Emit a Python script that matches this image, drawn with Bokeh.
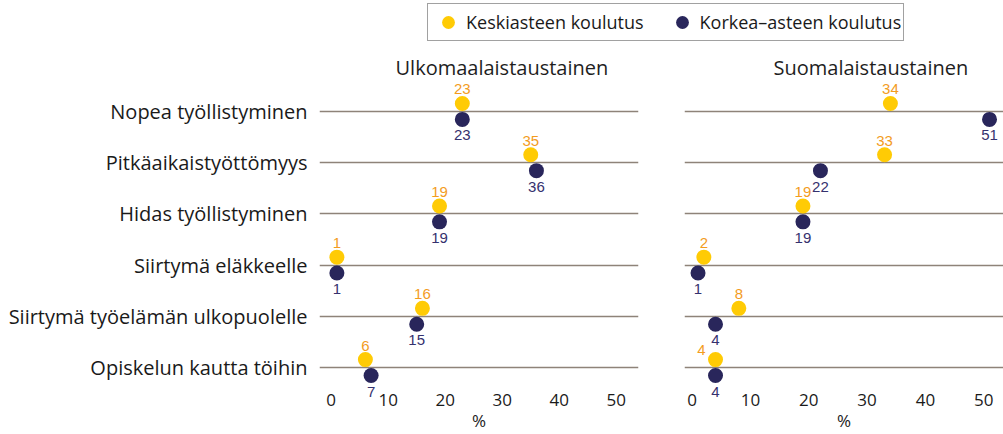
from bokeh.plotting import figure
from bokeh.models import (ColumnDataSource, Range1d, FixedTicker, LabelSet,
                          Legend, LegendItem)
from bokeh.layouts import column, row
from bokeh.transform import dodge
from bokeh.core.properties import value
from bokeh.embed import file_html
from bokeh.resources import INLINE

# ---------------- data ----------------
categories = ["Nopea työllistyminen", "Pitkäaikaistyöttömyys", "Hidas työllistyminen",
              "Siirtymä eläkkeelle", "Siirtymä työelämän ulkopuolelle", "Opiskelun kautta töihin"]
panel_titles = ["Ulkomaalaistaustainen", "Suomalaistaustainen"]
series_names = ["Keskiasteen koulutus", "Korkea–asteen koulutus"]
foreign_secondary = [23, 35, 19, 1, 16, 6]
foreign_higher = [23, 36, 19, 1, 15, 7]
native_secondary = [34, 33, 19, 2, 8, 4]
native_higher = [51, 22, 19, 1, 4, 4]
x_ticks = [0, 10, 20, 30, 40, 50]
x_axis_label = "%"

# ---------------- style ----------------
YELLOW = "#FFCB05"
NAVY = "#29265B"
YELLOW_TXT = "#F39C1E"
NAVY_TXT = "#35316E"
GRID = "#8E8379"
TXT = "#1A1A1A"
FONT = "Open Sans"
NUM_FONT = "Liberation Sans"

N = len(categories)
ypos = [N - 1 - i for i in range(N)]
LEG_H = 41
PH = 434 - LEG_H
DOT_OFF = 0.155


def label_offsets(sec, hig, scale):
    """yellow labels above, navy below; move a yellow label left when it would
    collide with the navy label of the row above."""
    sxo, syo = [], []
    for i in range(N):
        if i > 0 and abs(sec[i] - hig[i - 1]) * scale < 14:
            sxo.append(-14)
            syo.append(18)
        else:
            sxo.append(0)
            syo.append(22)
    return sxo, syo, [0] * N, [-24] * N


def make_panel(title, sec, hig, x_range, width, min_left, min_right, show_cats,
               scale, title_offset):
    p = figure(width=width, height=PH, x_range=x_range,
               y_range=Range1d(-0.605, N - 1 + 0.605),
               output_backend="svg", toolbar_location=None,
               min_border_left=min_left, min_border_right=min_right,
               min_border_top=39, min_border_bottom=36)
    p.outline_line_color = None
    p.xgrid.visible = False
    p.ygrid.ticker = FixedTicker(ticks=ypos)
    p.ygrid.grid_line_color = GRID
    p.ygrid.grid_line_width = 1.6

    p.title.text = title
    p.title.align = "left"
    p.title.offset = title_offset
    p.title.vertical_align = "bottom"
    p.title.standoff = 0
    p.title.text_font = FONT
    p.title.text_font_size = "20px"
    p.title.text_font_style = "normal"
    p.title.text_color = "#1E1E1E"

    p.xaxis.ticker = FixedTicker(ticks=x_ticks)
    p.xaxis.axis_line_color = None
    p.xaxis.major_tick_line_color = None
    p.xaxis.minor_tick_line_color = None
    p.xaxis.major_tick_out = 0
    p.xaxis.major_label_text_font = FONT
    p.xaxis.major_label_text_font_size = "17px"
    p.xaxis.major_label_text_color = TXT
    p.xaxis.major_label_standoff = -5
    p.xaxis.axis_label = x_axis_label
    p.xaxis.axis_label_text_font = FONT
    p.xaxis.axis_label_text_font_size = "17px"
    p.xaxis.axis_label_text_font_style = "normal"
    p.xaxis.axis_label_text_color = TXT
    p.xaxis.axis_label_standoff = 0

    if show_cats:
        p.yaxis.ticker = FixedTicker(ticks=ypos)
        p.yaxis.major_label_overrides = {y: c for y, c in zip(ypos, categories)}
        p.yaxis.axis_line_color = None
        p.yaxis.major_tick_line_color = None
        p.yaxis.minor_tick_line_color = None
        p.yaxis.major_tick_out = 0
        p.yaxis.major_label_text_font = FONT
        p.yaxis.major_label_text_font_size = "20px"
        p.yaxis.major_label_text_color = TXT
        p.yaxis.major_label_standoff = 12
    else:
        p.yaxis.visible = False

    sxo, syo, hxo, hyo = label_offsets(sec, hig, scale)
    src = ColumnDataSource(dict(
        y=ypos, sec=sec, hig=hig,
        sec_txt=[str(v) for v in sec], hig_txt=[str(v) for v in hig],
        sxo=sxo, syo=syo, hxo=hxo, hyo=hyo,
    ))
    p.scatter(x="sec", y=dodge("y", DOT_OFF), size=15, color=YELLOW, line_color=None, source=src)
    p.scatter(x="hig", y=dodge("y", -DOT_OFF), size=15, color=NAVY, line_color=None, source=src)

    p.add_layout(LabelSet(x="sec", y="y", text="sec_txt", x_offset="sxo", y_offset="syo",
                          source=src, text_align="center", text_baseline="middle",
                          text_font=value(NUM_FONT), text_font_size="15px",
                          text_color=YELLOW_TXT))
    p.add_layout(LabelSet(x="hig", y="y", text="hig_txt", x_offset="hxo", y_offset="hyo",
                          source=src, text_align="center", text_baseline="middle",
                          text_font=value(NUM_FONT), text_font_size="15px",
                          text_color=NAVY_TXT))
    return p


left = make_panel(panel_titles[0], foreign_secondary, foreign_higher,
                  Range1d(-2.05, 53.9), 648, 319, 10, True, 5.7, 76)
right = make_panel(panel_titles[1], native_secondary, native_higher,
                   Range1d(-1.32, 53.4), 355, 36, 0, False, 5.83, 89)

# legend strip
lf = figure(width=1003, height=LEG_H, x_range=Range1d(0, 1), y_range=Range1d(0, 1),
            x_axis_type=None, y_axis_type=None, output_backend="svg",
            toolbar_location=None, min_border=0)
lf.outline_line_color = None
lf.grid.visible = False
nan = float("nan")
r1 = lf.scatter(x=[nan], y=[nan], size=15, color=YELLOW, line_color=None)
r2 = lf.scatter(x=[nan], y=[nan], size=15, color=NAVY, line_color=None)
legend = Legend(items=[LegendItem(label=series_names[0], renderers=[r1]),
                       LegendItem(label=series_names[1], renderers=[r2])],
                orientation="horizontal", location=(427, 0),
                glyph_width=36, glyph_height=32, label_standoff=0, spacing=20,
                padding=2, margin=0, border_line_color="#444444", border_line_width=1,
                label_text_font=FONT, label_text_font_size="18px", label_text_color=TXT)
lf.add_layout(legend)

layout = column(lf, row(left, right))
open("out.html", "w").write(file_html(layout, INLINE))
